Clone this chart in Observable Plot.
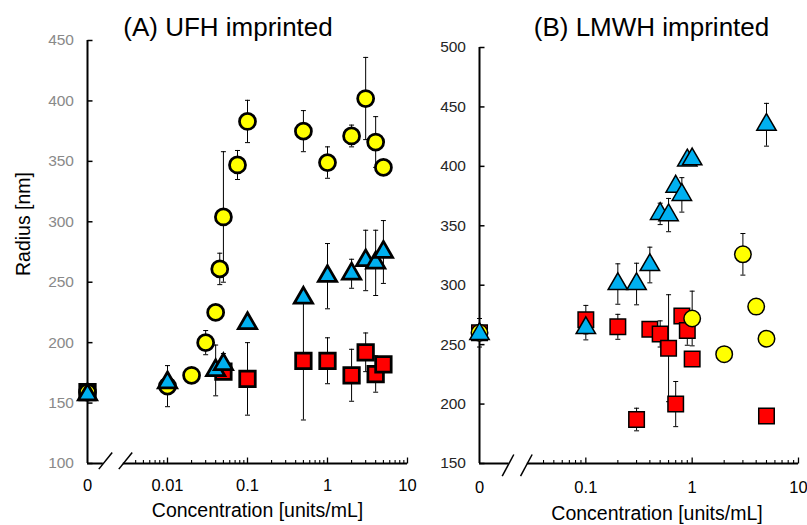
<!DOCTYPE html>
<html>
<head>
<meta charset="utf-8">
<script src="https://cdn.jsdelivr.net/npm/d3@7"></script>
<script src="https://cdn.jsdelivr.net/npm/@observablehq/plot@0.6"></script>
<style>
  html,body{margin:0;padding:0;background:#fff;}
  #wrap{position:relative;width:807px;height:525px;overflow:hidden;font-family:Arial,"Liberation Sans",Helvetica,sans-serif;}
  .lbl{position:absolute;white-space:nowrap;line-height:1;color:#000;}
  #wrap svg{position:absolute;top:0;overflow:visible;}
</style>
</head>
<body>
<div id="wrap"></div>
<script>
// ---------- Panel A: UFH imprinted ----------
const aCircleX = [0, 0.01, 0.02, 0.03, 0.04, 0.045, 0.05, 0.075, 0.1, 0.5, 1, 2, 3, 4, 5];
const aCircleY = [159, 164, 173, 200, 225, 261, 304, 347, 383, 375, 349, 371, 402, 366, 345];
const aCircleE = [0, 17, 0, 10, 0, 13, 54, 12, 17.5, 17, 13, 9, 34, 21, 0];
const aSquareX = [0, 0.05, 0.1, 0.5, 1, 2, 3, 4, 5];
const aSquareY = [159, 176, 170, 185, 185, 173, 192, 174, 182];
const aSquareE = [0, 0, 30, 49, 19, 21.5, 16, 15, 0];
const aTriX = [0, 0.01, 0.04, 0.05, 0.1, 0.5, 1, 2, 3, 4, 5];
const aTriY = [157, 167, 177, 182, 216, 237, 255, 257, 268, 266, 275];
const aTriE = [0, 0, 21, 9, 0, 0, 27, 12, 25, 27, 26];
const aYTicks = [100, 150, 200, 250, 300, 350, 400, 450];
const aXTickValues = [0, 0.01, 0.1, 1, 10];
const aXTickLabels = ["0", "0.01", "0.1", "1", "10"];

// ---------- Panel B: LMWH imprinted ----------
const bCircleX = [0, 1, 2, 3, 4, 5];
const bCircleY = [260, 272, 242, 326, 282, 255];
const bCircleE = [12, 23, 0, 17.5, 0, 0];
const bSquareX = [0, 0.1, 0.2, 0.3, 0.4, 0.5, 0.6, 0.7, 0.8, 0.9, 1, 5];
const bSquareY = [260, 271, 265, 187, 263, 259, 247, 200, 274, 262, 238, 190];
const bSquareE = [0, 12, 10.5, 9.5, 0, 11, 45, 19, 0, 12.5, 0, 0];
const bTriX = [0, 0.1, 0.2, 0.3, 0.4, 0.5, 0.6, 0.7, 0.8, 0.9, 1, 5];
const bTriY = [259, 264, 301, 301, 317, 360, 359, 383, 376, 405, 406, 435];
const bTriE = [0, 10, 17, 17.5, 15, 9, 14, 0, 14.5, 0, 0, 18];
const bYTicks = [150, 200, 250, 300, 350, 400, 450, 500];
const bXTickValues = [0, 0.1, 1, 10];
const bXTickLabels = ["0", "0.1", "1", "10"];

const titles = ["(A) UFH imprinted", "(B) LMWH imprinted"];
const xTitle = "Concentration [units/mL]";
const yTitle = "Radius [nm]";

const FONT = 'Arial, "Liberation Sans", Helvetica, sans-serif';
const YELLOW = "#FFFF00", RED = "#FF0000", BLUE = "#00B0F0";

function panel(o) {
  const pos = v => v === 0 ? o.zero : Math.log10(v);
  const rows = (xs, ys, es) => xs.map((x, i) => ({pos: pos(x), y: ys[i], e: es[i]}));
  const sq = rows(o.sqX, o.sqY, o.sqE);
  const ci = rows(o.ciX, o.ciY, o.ciE);
  const tr = rows(o.trX, o.trY, o.trE);
  const errs = [...sq, ...ci, ...tr].filter(d => d.e > 0);
  const [y0, y1] = o.yDomain;
  const majors = o.xTickValues.filter(v => v > 0);
  const minors = [];
  for (let d = Math.floor(Math.log10(o.minorFrom)); d < 1; d++) {
    for (let k = 2; k <= 9; k++) {
      const v = k * Math.pow(10, d);
      if (v >= o.minorFrom * 0.999 && v < 10) minors.push(v);
    }
  }
  const hTick = {draw(c) { c.moveTo(0, 0); c.lineTo(5, 0); }};
  const vMajor = {draw(c) { c.moveTo(0, 0); c.lineTo(0, -6); }};
  const vMinor = {draw(c) { c.moveTo(0, 0); c.lineTo(0, -3.5); }};
  const cap = {draw(c) { c.moveTo(-2.5, 0); c.lineTo(2.5, 0); }};
  const slash = {draw(c) { c.moveTo(o.slash[0], o.slash[1]); c.lineTo(o.slash[2], o.slash[3]); }};
  const tickRows = o.xTickValues.map((v, i) => ({pos: pos(v), t: o.xTickLabels[i]}));

  return Plot.plot({
    width: o.width, height: 525,
    marginLeft: o.mL, marginRight: o.mR, marginTop: o.mT, marginBottom: o.mB,
    x: {type: "linear", domain: [o.zero, 1], axis: null},
    y: {type: "linear", domain: o.yDomain, axis: null},
    style: {fontFamily: FONT, background: "transparent", overflow: "visible"},
    marks: [
      // axes
      Plot.ruleX([o.zero], {y1: y0, y2: y1, stroke: "#000", strokeWidth: 2}),
      Plot.ruleY(o.segments, {x1: d => d[0], x2: d => d[1], y: y0, stroke: "#000", strokeWidth: 2}),
      Plot.dot(o.yTicks, {x: o.zero, y: d => d, r: 1, symbol: hTick, stroke: "#000", strokeWidth: 1.5, fill: "none"}),
      Plot.dot(majors, {x: d => pos(d), y: y0, r: 1, symbol: vMajor, stroke: "#000", strokeWidth: 1.3, fill: "none"}),
      Plot.dot(minors, {x: d => pos(d), y: y0, r: 1, symbol: vMinor, stroke: "#000", strokeWidth: 1.1, fill: "none"}),
      Plot.dot(o.breaks, {x: d => d, y: y0, r: 1, symbol: slash, stroke: "#000", strokeWidth: 1.5, fill: "none"}),
      Plot.text(o.yTicks, {x: o.zero, y: d => d, text: d => String(d), textAnchor: "end", dx: -13.5, fill: o.yColor, fontSize: 15.5}),
      Plot.text(tickRows, {x: "pos", y: y0, text: "t", dy: o.xLabelDy, fill: "#000", fontSize: 16.5}),
      // error bars
      Plot.ruleX(errs, {x: "pos", y1: d => d.y - d.e, y2: d => d.y + d.e, stroke: "#000", strokeWidth: 1}),
      Plot.dot(errs, {x: "pos", y: d => d.y + d.e, r: 1, symbol: cap, stroke: "#000", strokeWidth: 1, fill: "none"}),
      Plot.dot(errs, {x: "pos", y: d => d.y - d.e, r: 1, symbol: cap, stroke: "#000", strokeWidth: 1, fill: "none"}),
      // series
      Plot.dot(sq, {x: "pos", y: "y", symbol: "square", r: o.rSq, fill: RED, stroke: "#000", strokeWidth: o.sw}),
      Plot.dot(ci, {x: "pos", y: "y", symbol: "circle", r: o.rCi, fill: YELLOW, stroke: "#000", strokeWidth: o.sw}),
      Plot.dot(tr, {x: "pos", y: "y", symbol: "triangle", r: o.rTr, fill: BLUE, stroke: "#000", strokeWidth: o.sw})
    ]
  });
}

const wrap = document.getElementById("wrap");

const svgA = panel({
  width: 420, mL: 87, mR: 13, mT: 40, mB: 62,
  zero: -3, yDomain: [100, 450], minorFrom: 0.004,
  segments: [[-3, -2.8025], [-2.5525, 1]],
  breaks: [-2.8025, -2.5525], slash: [-4.5, 5.6, 8.9, -11],
  yTicks: aYTicks, xTickValues: aXTickValues, xTickLabels: aXTickLabels,
  yColor: "#898989", xLabelDy: 22,
  sqX: aSquareX, sqY: aSquareY, sqE: aSquareE,
  ciX: aCircleX, ciY: aCircleY, ciE: aCircleE,
  trX: aTriX, trY: aTriY, trE: aTriE,
  rSq: 8.75, rCi: 8, rTr: 6.8, sw: 2.75
});
svgA.style.left = "0px";
wrap.appendChild(svgA);

const svgB = panel({
  width: 400, mL: 72, mR: 9, mT: 47, mB: 62,
  zero: -2, yDomain: [150, 500], minorFrom: 0.04,
  segments: [[-2, -1.7225], [-1.55, 1]],
  breaks: [-1.7225, -1.55], slash: [-6.8, 12.7, 4.8, -9],
  yTicks: bYTicks, xTickValues: bXTickValues, xTickLabels: bXTickLabels,
  yColor: "#262626", xLabelDy: 24.5,
  sqX: bSquareX, sqY: bSquareY, sqE: bSquareE,
  ciX: bCircleX, ciY: bCircleY, ciE: bCircleE,
  trX: bTriX, trY: bTriY, trE: bTriE,
  rSq: 8.75, rCi: 8.25, rTr: 7.2, sw: 1.5
});
svgB.style.left = "407px";
wrap.appendChild(svgB);

function label(text, cx, top, size, rotate) {
  const d = document.createElement("div");
  d.className = "lbl";
  d.textContent = text;
  d.style.fontSize = size + "px";
  d.style.left = cx + "px";
  d.style.top = top + "px";
  d.style.transform = rotate ? "translate(-50%,-50%) rotate(-90deg)" : "translateX(-50%)";
  wrap.appendChild(d);
}
label(titles[0], 228, 14, 26);
label(titles[1], 651.5, 14, 26);
label(xTitle, 257.5, 500.5, 19.5);
label(xTitle, 657, 503.5, 19.5);
label(yTitle, 24, 223.5, 19.5, true);
</script>
</body>
</html>
